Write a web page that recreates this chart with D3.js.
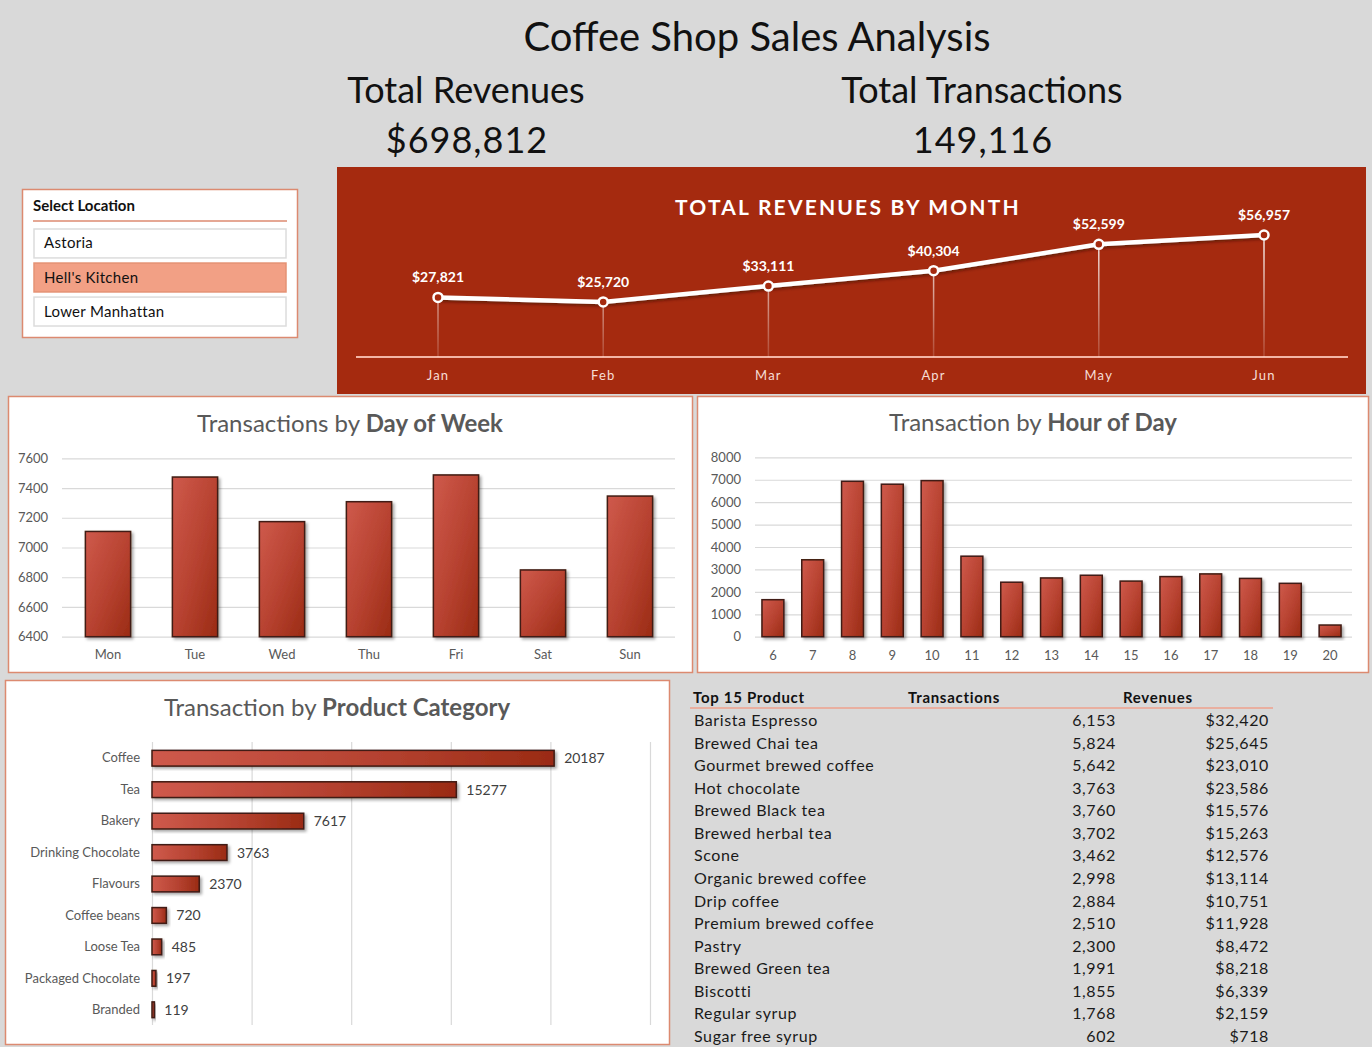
<!DOCTYPE html>
<html>
<head>
<meta charset="utf-8">
<script src="https://cdn.jsdelivr.net/npm/d3@7"></script>
<style>
  body { margin: 0; background: #d9d9d9; }
  svg text { font-family: Lato, "Open Sans", sans-serif; }
</style>
</head>
<body>
<div class="svg-container"></div>
<script>
// data
const months = ['Jan', 'Feb', 'Mar', 'Apr', 'May', 'Jun'];
const monthRevenue = [27821, 25720, 33111, 40304, 52599, 56957];

const days = ['Mon', 'Tue', 'Wed', 'Thu', 'Fri', 'Sat', 'Sun'];
const dayTransactions = [7108, 7474, 7174, 7308, 7488, 6849, 7346];
const dayTicks = [6400, 6600, 6800, 7000, 7200, 7400, 7600];

const hours = ['6', '7', '8', '9', '10', '11', '12', '13', '14', '15', '16', '17', '18', '19', '20'];
const hourTransactions = [1650, 3430, 6930, 6800, 6960, 3590, 2430, 2620, 2740, 2480, 2680, 2800, 2600, 2380, 520];
const hourTicks = [0, 1000, 2000, 3000, 4000, 5000, 6000, 7000, 8000];

const categories = ['Coffee', 'Tea', 'Bakery', 'Drinking Chocolate', 'Flavours', 'Coffee beans', 'Loose Tea', 'Packaged Chocolate', 'Branded'];
const categoryTransactions = [20187, 15277, 7617, 3763, 2370, 720, 485, 197, 119];
const categoryTicks = [0, 5000, 10000, 15000, 20000, 25000];

const products = ['Barista Espresso', 'Brewed Chai tea', 'Gourmet brewed coffee', 'Hot chocolate', 'Brewed Black tea',
  'Brewed herbal tea', 'Scone', 'Organic brewed coffee', 'Drip coffee', 'Premium brewed coffee', 'Pastry',
  'Brewed Green tea', 'Biscotti', 'Regular syrup', 'Sugar free syrup'];
const productTransactions = [6153, 5824, 5642, 3763, 3760, 3702, 3462, 2998, 2884, 2510, 2300, 1991, 1855, 1768, 602];
const productRevenues = [32420, 25645, 23010, 23586, 15576, 15263, 12576, 13114, 10751, 11928, 8472, 8218, 6339, 2159, 718];

const locations = ['Astoria', "Hell's Kitchen", 'Lower Manhattan'];
const selectedLocation = "Hell's Kitchen";

const totalRevenue = '$698,812';
const totalTransactions = '149,116';

const width = 1372;
const height = 1047;
const panelRed = '#a52a0f';
const border = '#dc8a70';
const grid = '#d9d9d9';
const axisText = '#595959';

const svg = d3.select('.svg-container')
  .append('svg')
  .attr('width', width)
  .attr('height', height);

//defs: gradients and shadows
const defs = svg.append('defs');
const vGrad = defs.append('linearGradient').attr('id', 'vbar')
  .attr('x1', 0).attr('y1', 0).attr('x2', 1).attr('y2', 1);
vGrad.append('stop').attr('offset', '0%').attr('stop-color', '#cf5a4c');
vGrad.append('stop').attr('offset', '55%').attr('stop-color', '#b6412f');
vGrad.append('stop').attr('offset', '100%').attr('stop-color', '#9a2b14');
const hGrad = defs.append('linearGradient').attr('id', 'hbar')
  .attr('x1', 0).attr('y1', 0).attr('x2', 1).attr('y2', 0);
hGrad.append('stop').attr('offset', '0%').attr('stop-color', '#cf5a4c');
hGrad.append('stop').attr('offset', '60%').attr('stop-color', '#b3402e');
hGrad.append('stop').attr('offset', '100%').attr('stop-color', '#9a2b14');
const shadow = defs.append('filter').attr('id', 'shadow')
  .attr('x', '-20%').attr('y', '-20%').attr('width', '150%').attr('height', '150%');
shadow.append('feDropShadow').attr('dx', 2).attr('dy', 2).attr('stdDeviation', 1.5)
  .attr('flood-color', '#000').attr('flood-opacity', 0.35);
const lineShadow = defs.append('filter').attr('id', 'lineshadow')
  .attr('x', '-10%').attr('y', '-50%').attr('width', '120%').attr('height', '200%');
lineShadow.append('feDropShadow').attr('dx', 1).attr('dy', 2).attr('stdDeviation', 1.5)
  .attr('flood-color', '#3a0a00').attr('flood-opacity', 0.6);
const dropGrad = defs.append('linearGradient').attr('id', 'drop')
  .attr('gradientUnits', 'userSpaceOnUse')
  .attr('x1', 0).attr('y1', 230).attr('x2', 0).attr('y2', 357);
dropGrad.append('stop').attr('offset', '0%').attr('stop-color', '#fff').attr('stop-opacity', 0.95);
dropGrad.append('stop').attr('offset', '100%').attr('stop-color', '#fff').attr('stop-opacity', 0.15);

//headline texts
svg.append('text').attr('x', 757).attr('y', 51).attr('text-anchor', 'middle')
  .attr('font-size', 40).attr('fill', '#111').text('Coffee Shop Sales Analysis');
svg.append('text').attr('x', 466).attr('y', 103).attr('text-anchor', 'middle')
  .attr('font-size', 36).attr('fill', '#111').text('Total Revenues');
svg.append('text').attr('x', 982).attr('y', 103).attr('text-anchor', 'middle')
  .attr('font-size', 36).attr('fill', '#111').text('Total Transactions');
svg.append('text').attr('x', 467).attr('y', 153).attr('text-anchor', 'middle')
  .attr('font-size', 36).attr('fill', '#111').attr('letter-spacing', 1).text(totalRevenue);
svg.append('text').attr('x', 983).attr('y', 153).attr('text-anchor', 'middle')
  .attr('font-size', 36).attr('fill', '#111').attr('letter-spacing', 1).text(totalTransactions);

//slicer
const slicer = svg.append('g');
slicer.append('rect').attr('x', 22.5).attr('y', 189.5).attr('width', 275).attr('height', 148)
  .attr('fill', '#fff').attr('stroke', border).attr('stroke-width', 1.5);
slicer.append('text').attr('x', 33).attr('y', 211).attr('font-size', 15).attr('font-weight', 'bold')
  .attr('fill', '#111').text('Select Location');
slicer.append('line').attr('x1', 33).attr('x2', 287).attr('y1', 221).attr('y2', 221)
  .attr('stroke', border).attr('stroke-width', 1.5);
const locScale = d3.scaleBand().domain(locations).range([229, 326]).paddingInner(0.15);
slicer.selectAll('.loc')
  .data(locations)
  .join('rect')
  .attr('class', 'loc')
  .attr('x', 34).attr('y', d => locScale(d))
  .attr('width', 252).attr('height', locScale.bandwidth())
  .attr('fill', d => d === selectedLocation ? '#f2a085' : '#fff')
  .attr('stroke', d => d === selectedLocation ? '#e59274' : '#dcdcdc').attr('stroke-width', 1.5);
slicer.selectAll('.loc-text')
  .data(locations)
  .join('text')
  .attr('class', 'loc-text')
  .attr('x', 44).attr('y', d => locScale(d) + locScale.bandwidth() / 2 + 5)
  .attr('font-size', 15).attr('fill', '#111').attr('letter-spacing', 0.3)
  .text(d => d);

//revenue by month panel
const rev = svg.append('g');
rev.append('rect').attr('x', 337).attr('y', 167).attr('width', 1029).attr('height', 227).attr('fill', panelRed);
rev.append('text').attr('x', 848).attr('y', 215).attr('text-anchor', 'middle')
  .attr('font-size', 21).attr('font-weight', 'bold').attr('letter-spacing', 2.2)
  .attr('fill', '#fff').text('TOTAL REVENUES BY MONTH');

const mx = d3.scalePoint().domain(months).range([438, 1264]);
const my = d3.scaleLinear().domain([0, 60000]).range([357, 228.5]);

rev.append('line').attr('x1', 356).attr('x2', 1348).attr('y1', 357).attr('y2', 357)
  .attr('stroke', '#f3b5a5').attr('stroke-width', 2);
rev.selectAll('.drop')
  .data(months)
  .join('line')
  .attr('class', 'drop')
  .attr('x1', d => mx(d)).attr('x2', d => mx(d))
  .attr('y1', (d, i) => my(monthRevenue[i])).attr('y2', 357)
  .attr('stroke', 'url(#drop)').attr('stroke-width', 1.5);
rev.append('path')
  .datum(monthRevenue)
  .attr('d', d3.line().x((d, i) => mx(months[i])).y(d => my(d)))
  .attr('fill', 'none').attr('stroke', '#fff').attr('stroke-width', 4.5)
  .attr('filter', 'url(#lineshadow)');
rev.selectAll('.pt')
  .data(monthRevenue)
  .join('circle')
  .attr('class', 'pt')
  .attr('cx', (d, i) => mx(months[i])).attr('cy', d => my(d)).attr('r', 4.5)
  .attr('fill', panelRed).attr('stroke', '#fff').attr('stroke-width', 2.5);
rev.selectAll('.pt-label')
  .data(monthRevenue)
  .join('text')
  .attr('class', 'pt-label')
  .attr('x', (d, i) => mx(months[i])).attr('y', d => my(d) - 15)
  .attr('text-anchor', 'middle').attr('font-size', 14).attr('font-weight', 'bold')
  .attr('fill', '#fff').text(d => d3.format('$,')(d));
rev.selectAll('.month')
  .data(months)
  .join('text')
  .attr('class', 'month')
  .attr('x', d => mx(d)).attr('y', 380)
  .attr('text-anchor', 'middle').attr('font-size', 13).attr('letter-spacing', 1.2)
  .attr('fill', '#f7ddd5').text(d => d);

//panel helper
function panel(x, y, w, h, plain, bold, tx, ty) {
  const g = svg.append('g');
  g.append('rect').attr('x', x + 0.5).attr('y', y + 0.5).attr('width', w).attr('height', h)
    .attr('fill', '#fff').attr('stroke', border).attr('stroke-width', 1.5);
  const t = g.append('text').attr('x', tx).attr('y', ty).attr('text-anchor', 'middle')
    .attr('font-size', 24).attr('fill', axisText);
  t.append('tspan').text(plain);
  t.append('tspan').attr('font-weight', 'bold').text(bold);
  return g;
}

//day of week
const dow = panel(8, 396, 684, 276, 'Transactions by ', 'Day of Week', 350, 432);
const dx = d3.scaleBand().domain(days).range([64.5, 673.5]).paddingInner(0.48).paddingOuter(0.24);
const dy = d3.scaleLinear().domain([6400, 7600]).range([636.7, 458.3]);
dow.append('g')
  .attr('transform', 'translate(62,0)')
  .call(d3.axisLeft(dy).tickValues(dayTicks).tickFormat(d3.format('d')).tickSize(-613).tickPadding(10))
  .call(g => g.select('.domain').remove())
  .call(g => g.selectAll('.tick line').attr('stroke', grid).attr('stroke-width', 1.2))
  .call(g => g.selectAll('.tick text').attr('fill', axisText).attr('font-size', 13).attr('text-anchor', 'start').attr('x', -44));
dow.append('g')
  .attr('transform', 'translate(0,644)')
  .call(d3.axisBottom(dx).tickSize(0).tickPadding(6))
  .call(g => g.select('.domain').remove())
  .call(g => g.selectAll('.tick text').attr('fill', axisText).attr('font-size', 13));
dow.selectAll('.bar')
  .data(dayTransactions)
  .join('rect')
  .attr('class', 'bar')
  .attr('x', (d, i) => dx(days[i])).attr('y', d => dy(d))
  .attr('width', dx.bandwidth()).attr('height', d => dy(6400) - dy(d))
  .attr('fill', 'url(#vbar)').attr('stroke', '#3f1a12').attr('stroke-width', 1.5)
  .attr('filter', 'url(#shadow)');

//hour of day
const hod = panel(697, 396, 671, 276, 'Transaction by ', 'Hour of Day', 1033, 431);
const hx = d3.scaleBand().domain(hours).range([753, 1350]).paddingInner(0.45).paddingOuter(0.225);
const hy = d3.scaleLinear().domain([0, 8000]).range([636.7, 457.3]);
hod.append('g')
  .attr('transform', 'translate(755,0)')
  .call(d3.axisLeft(hy).tickValues(hourTicks).tickFormat(d3.format('d')).tickSize(-597).tickPadding(14))
  .call(g => g.select('.domain').remove())
  .call(g => g.selectAll('.tick line').attr('stroke', grid).attr('stroke-width', 1.2))
  .call(g => g.selectAll('.tick text').attr('fill', axisText).attr('font-size', 13));
hod.append('g')
  .attr('transform', 'translate(0,645)')
  .call(d3.axisBottom(hx).tickSize(0).tickPadding(6))
  .call(g => g.select('.domain').remove())
  .call(g => g.selectAll('.tick text').attr('fill', axisText).attr('font-size', 13));
hod.selectAll('.bar')
  .data(hourTransactions)
  .join('rect')
  .attr('class', 'bar')
  .attr('x', (d, i) => hx(hours[i])).attr('y', d => hy(d))
  .attr('width', hx.bandwidth()).attr('height', d => hy(0) - hy(d))
  .attr('fill', 'url(#vbar)').attr('stroke', '#3f1a12').attr('stroke-width', 1.5)
  .attr('filter', 'url(#shadow)');

//product category
const pc = panel(5, 680, 664, 364, 'Transaction by ', 'Product Category', 337, 716);
const px = d3.scaleLinear().domain([0, 25000]).range([152, 650]);
const py = d3.scaleBand().domain(categories).range([742.5, 1025.5]).paddingInner(0.5).paddingOuter(0.25);
pc.append('g')
  .attr('transform', 'translate(0,1025)')
  .call(d3.axisBottom(px).tickValues(categoryTicks).tickSize(-283).tickFormat(''))
  .call(g => g.select('.domain').remove())
  .call(g => g.selectAll('.tick line').attr('stroke', grid).attr('stroke-width', 1.2));
pc.append('g')
  .attr('transform', 'translate(152,0)')
  .call(d3.axisLeft(py).tickSize(0).tickPadding(12))
  .call(g => g.select('.domain').remove())
  .call(g => g.selectAll('.tick text').attr('fill', axisText).attr('font-size', 13));
pc.selectAll('.bar')
  .data(categoryTransactions)
  .join('rect')
  .attr('class', 'bar')
  .attr('x', px(0)).attr('y', (d, i) => py(categories[i]))
  .attr('width', d => Math.max(px(d) - px(0), 2)).attr('height', py.bandwidth())
  .attr('fill', 'url(#hbar)').attr('stroke', '#3f1a12').attr('stroke-width', 1.5)
  .attr('filter', 'url(#shadow)');
pc.selectAll('.val')
  .data(categoryTransactions)
  .join('text')
  .attr('class', 'val')
  .attr('x', d => Math.max(px(d), px(0) + 2) + 10)
  .attr('y', (d, i) => py(categories[i]) + py.bandwidth() / 2 + 5)
  .attr('font-size', 14).attr('fill', '#404040').text(d => d);

//top 15 table
const tb = svg.append('g');
const ty = d3.scaleBand().domain(products).range([708.7, 1047.3]);
tb.append('text').attr('x', 693).attr('y', 703).attr('font-size', 15).attr('font-weight', 'bold')
  .attr('fill', '#111').attr('letter-spacing', 0.7).text('Top 15 Product');
tb.append('text').attr('x', 908).attr('y', 703).attr('font-size', 15).attr('font-weight', 'bold')
  .attr('fill', '#111').attr('letter-spacing', 0.7).text('Transactions');
tb.append('text').attr('x', 1123).attr('y', 703).attr('font-size', 15).attr('font-weight', 'bold')
  .attr('fill', '#111').attr('letter-spacing', 0.7).text('Revenues');
tb.append('line').attr('x1', 690).attr('x2', 1273).attr('y1', 708).attr('y2', 708)
  .attr('stroke', '#eea08c').attr('stroke-width', 1.5);
tb.selectAll('.pname')
  .data(products)
  .join('text')
  .attr('class', 'pname')
  .attr('x', 694).attr('y', d => ty(d) + ty.bandwidth() / 2 + 6)
  .attr('font-size', 16).attr('fill', '#1a1a1a').attr('letter-spacing', 0.6).text(d => d);
tb.selectAll('.ptx')
  .data(productTransactions)
  .join('text')
  .attr('class', 'ptx')
  .attr('x', 1116).attr('y', (d, i) => ty(products[i]) + ty.bandwidth() / 2 + 6)
  .attr('text-anchor', 'end').attr('font-size', 16).attr('fill', '#1a1a1a').attr('letter-spacing', 0.6)
  .text(d => d3.format(',')(d));
tb.selectAll('.prev')
  .data(productRevenues)
  .join('text')
  .attr('class', 'prev')
  .attr('x', 1269).attr('y', (d, i) => ty(products[i]) + ty.bandwidth() / 2 + 6)
  .attr('text-anchor', 'end').attr('font-size', 16).attr('fill', '#1a1a1a').attr('letter-spacing', 0.6)
  .text(d => d3.format('$,')(d));
</script>
</body>
</html>
